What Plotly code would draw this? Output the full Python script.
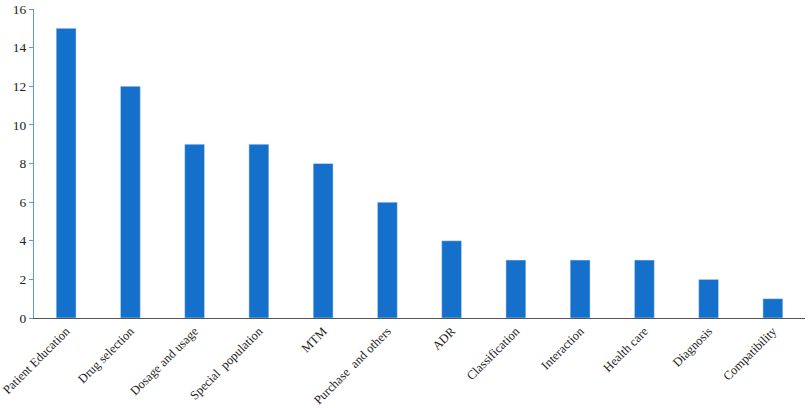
import plotly.graph_objects as go

categories = ["Patient Education", "Drug selection", "Dosage and usage", "Special  population",
              "MTM", "Purchase  and others", "ADR", "Classification", "Interaction",
              "Health care", "Diagnosis", "Compatibility"]
values = [15, 12, 9, 9, 8, 6, 4, 3, 3, 3, 2, 1]
y_ticks = [0, 2, 4, 6, 8, 10, 12, 14, 16]

fig = go.Figure(go.Bar(x=categories, y=values, marker_color="#1570CC", width=0.31))

fig.update_layout(
    width=809, height=408,
    margin=dict(l=34, r=4, t=9, b=90),
    paper_bgcolor="white", plot_bgcolor="white",
    font=dict(family="Liberation Serif", size=12, color="#222"),
    showlegend=False,
    bargap=0.69,
)
fig.update_xaxes(showline=True, linecolor="#555", linewidth=1, tickangle=-45,
                 ticks="", showgrid=False, tickfont=dict(size=12.5), automargin=False)
fig.update_yaxes(range=[0, 16], tickvals=y_ticks, showline=True, linecolor="#5B9BD5",
                 linewidth=1, ticks="outside", tickcolor="#5B9BD5", ticklen=4,
                 showgrid=False, zeroline=False, tickfont=dict(size=13.5), automargin=False)

fig.write_html("out.html", post_script="document.body.style.margin='0';",
               config={"displayModeBar": False})
